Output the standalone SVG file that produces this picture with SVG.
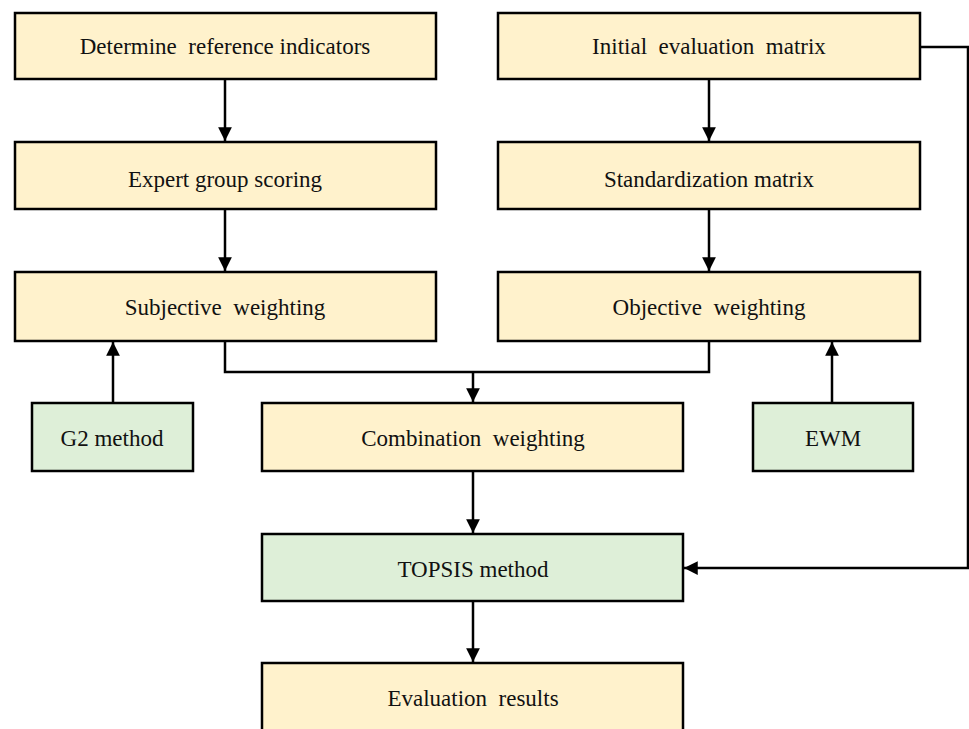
<svg xmlns="http://www.w3.org/2000/svg" width="969" height="729" viewBox="0 0 969 729" xml:space="preserve">
<style>
.y{fill:#FFF2CC;stroke:#000;stroke-width:2.5}
.g{fill:#DEEFD8;stroke:#000;stroke-width:2.5}
text{font-family:"Liberation Serif","Times New Roman",serif;font-size:23px;fill:#111;text-anchor:middle;white-space:pre}
.c{fill:none;stroke:#000;stroke-width:2.5}
</style>
<defs>
<marker id="a" viewBox="0 0 10 10" refX="10" refY="5" markerWidth="5.5" markerHeight="5.5" orient="auto" markerUnits="strokeWidth">
<path d="M0,0 L10,5 L0,10 z" fill="#000"/>
</marker>
</defs>
<g id="connectors">
<path class="c" d="M225,79 V141" marker-end="url(#a)"/>
<path class="c" d="M709,79 V141" marker-end="url(#a)"/>
<path class="c" d="M225,209 V271" marker-end="url(#a)"/>
<path class="c" d="M709,209 V271" marker-end="url(#a)"/>
<path class="c" d="M225,341 V372 H709 V341"/>
<path class="c" d="M473,372 V402" marker-end="url(#a)"/>
<path class="c" d="M113,403 V342" marker-end="url(#a)"/>
<path class="c" d="M832,403 V342" marker-end="url(#a)"/>
<path class="c" d="M473,471 V533" marker-end="url(#a)"/>
<path class="c" d="M473,601 V662" marker-end="url(#a)"/>
<path class="c" d="M920,47 H968 V568 H684" marker-end="url(#a)"/>
</g>
<g id="n1"><rect class="y" x="15" y="13" width="421" height="66"/><text x="225" y="54">Determine  reference indicators</text></g>
<g id="n2"><rect class="y" x="498" y="13" width="422" height="66"/><text x="709" y="54">Initial  evaluation  matrix</text></g>
<g id="n3"><rect class="y" x="15" y="142" width="421" height="67"/><text x="225" y="187">Expert group scoring</text></g>
<g id="n4"><rect class="y" x="498" y="142" width="422" height="67"/><text x="709" y="187">Standardization matrix</text></g>
<g id="n5"><rect class="y" x="15" y="272" width="421" height="69"/><text x="225" y="315">Subjective  weighting</text></g>
<g id="n6"><rect class="y" x="498" y="272" width="422" height="69"/><text x="709" y="315">Objective  weighting</text></g>
<g id="n7"><rect class="g" x="32" y="403" width="161" height="68"/><text x="112" y="446">G2 method</text></g>
<g id="n8"><rect class="y" x="262" y="403" width="421" height="68"/><text x="473" y="446">Combination  weighting</text></g>
<g id="n9"><rect class="g" x="753" y="403" width="160" height="68"/><text x="833" y="446">EWM</text></g>
<g id="n10"><rect class="g" x="262" y="534" width="421" height="67"/><text x="473" y="577">TOPSIS method</text></g>
<g id="n11"><rect class="y" x="262" y="663" width="421" height="80"/><text x="473" y="706">Evaluation  results</text></g>
</svg>
